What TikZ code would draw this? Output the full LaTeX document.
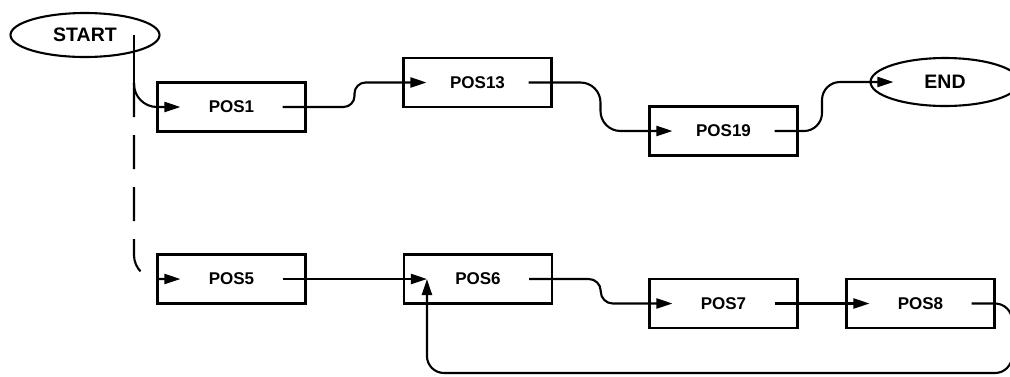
\documentclass[tikz,border=0pt]{standalone}
\usepackage{fontspec}
\setmainfont{Liberation Sans}
\usetikzlibrary{arrows.meta,calc,shapes.geometric}

\begin{document}
\begin{tikzpicture}[x=1pt,y=-1pt,line width=2.1pt,
  posbox/.style={draw,rectangle,minimum width=148pt,minimum height=49pt,inner sep=0pt,font=\fontsize{17}{20}\selectfont\bfseries},
  term/.style={draw,ellipse,minimum width=149pt,minimum height=44pt,inner sep=0pt,font=\fontsize{19.5}{22}\selectfont\bfseries},
  flow/.style={-{Triangle[length=16pt,width=10pt]}},
  sbend/.style={rounded corners=#1}]
\useasboundingbox (0,0) rectangle (1010,376);
%\draw[help lines,step=50] (0,0) grid (1010,376);

\node[term] (start) at (85,35) {START};
\node[term,minimum height=48pt] (end) at (945,82) {END};

\node[posbox] (pos1) at (231.5,107) {POS1};
\node[posbox] (pos13) at (477.5,82.5) {POS13};
\node[posbox] (pos19) at (723.5,131) {POS19};
\node[posbox] (pos5) at (231.5,279) {POS5};
\node[posbox] (pos6) at (478,279) {POS6};
\node[posbox] (pos7) at (723.5,303.5) {POS7};
\node[posbox] (pos8) at (920.5,303.5) {POS8};

% upper row
\coordinate (split) at (134,83);
\coordinate (s1) at ($(pos1.east)!.5!(pos13.west)$);
\coordinate (s2) at ($(pos13.east)!.5!(pos19.west)$);
\coordinate (s3) at ($(pos19.east)!.5!(end.west)+(-12,0)$);
\draw (start.center -| split) -- (split);
\draw[flow,rounded corners=23pt] (split) |- ([xshift=24pt]pos1.west);
\draw[flow,sbend=11pt] ([xshift=-24pt]pos1.east) -| (s1 |- pos13) -- ([xshift=24pt]pos13.west);
\draw[flow,sbend=20pt] ([xshift=-24pt]pos13.east) -| (s2 |- pos19) -- ([xshift=24pt]pos19.west);
\draw[flow,sbend=18pt] ([xshift=-24pt]pos19.east) -| (s3 |- end) -- ([xshift=24pt]end.west);

% lower row
\coordinate (s4) at ($(pos6.east)!.5!(pos7.west)$);
\coordinate (loop) at (1012,373);
\draw[flow,dash pattern=on 34pt off 18pt,rounded corners=24pt] (split) |- ([xshift=24pt]pos5.west);
\draw[flow] ([xshift=-24pt]pos5.east) -- ([xshift=24pt]pos6.west);
\draw[flow,sbend=12pt] ([xshift=-24pt]pos6.east) -| (s4 |- pos7) -- ([xshift=24pt]pos7.west);
\draw[flow] ([xshift=-24pt]pos7.east) -- ([xshift=24pt]pos8.west);
\draw[flow,rounded corners=17pt] ([xshift=-24pt]pos8.east) -| (loop) -| ([xshift=24pt]pos6.west);
\end{tikzpicture}
\end{document}
